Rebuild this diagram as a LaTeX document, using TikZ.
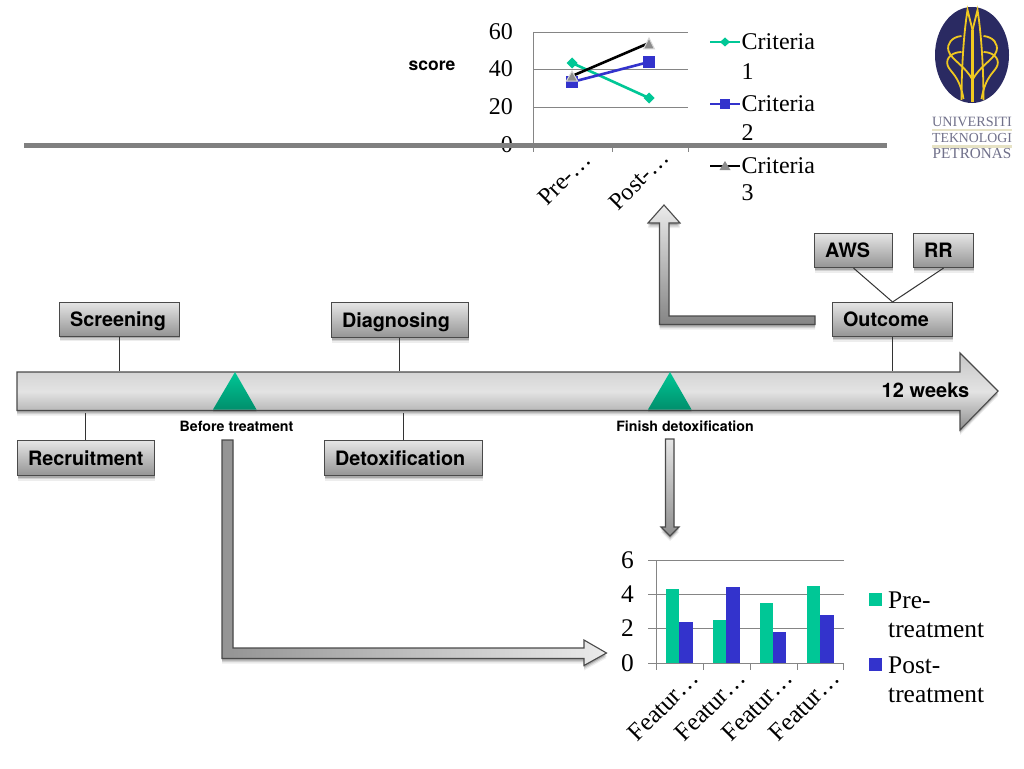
\documentclass[tikz,border=0pt]{standalone}
\usepackage{fontspec}
\setmainfont{Liberation Serif}
\newfontfamily\hv{TeX Gyre Heros}
\usetikzlibrary{shadows}
\definecolor{tgreen}{HTML}{00C796}
\definecolor{tblue}{HTML}{3333CC}
\definecolor{edgec}{HTML}{4A4A4A}
\definecolor{gridc}{HTML}{858585}
\definecolor{logoblue}{HTML}{2A2A62}
\definecolor{logoyel}{HTML}{EFC820}
\definecolor{logotxt}{HTML}{70708A}
\definecolor{logobar}{HTML}{E6E2C4}
\tikzset{
  softshadow/.style={
    general shadow={shadow xshift=0pt,shadow yshift=-5pt,fill=black,opacity=.07},
    general shadow={shadow xshift=0pt,shadow yshift=-3.5pt,fill=black,opacity=.12},
    general shadow={shadow xshift=0pt,shadow yshift=-2pt,fill=black,opacity=.18}},
  boxn/.style={draw=edgec,line width=1.1pt,rectangle,softshadow,top color=E1,bottom color=G9,
    anchor=north west,inner xsep=10.5pt,inner ysep=0pt,align=left,minimum height=34pt,
    text height=16pt,text depth=2pt,
    font=\hv\bfseries\fontsize{19.8}{22}\selectfont,text=black},
  conn/.style={draw=black!80,line width=1pt},
  small/.style={font=\hv\bfseries\fontsize{14.2}{16}\selectfont,text=black,inner sep=0pt},
  blockarrow/.style={draw=edgec,line width=1.1pt,line join=miter,softshadow},
  mile/.style={top color=tgreen,bottom color=black!28!tgreen,
    general shadow={shadow xshift=0pt,shadow yshift=-2pt,fill=black,opacity=.15}},
  grid/.style={draw=gridc,line width=.9pt},
  tick/.style={font=\fontsize{24}{26}\selectfont,text=black,inner sep=0pt},
  tickb/.style={font=\fontsize{25.4}{27}\selectfont,text=black,inner sep=0pt},
  rotl/.style={font=\fontsize{24}{26}\selectfont,text=black,inner sep=0pt,rotate=45,anchor=east},
  rotb/.style={font=\fontsize{25}{27}\selectfont,text=black,inner sep=0pt,rotate=45,anchor=east},
  legt/.style={font=\fontsize{24}{26}\selectfont,text=black,inner sep=0pt,anchor=west},
  legb/.style={font=\fontsize{25.4}{27}\selectfont,text=black,inner sep=0pt,anchor=west},
  logot/.style={text=logotxt,inner sep=0pt},
}
\colorlet{E1}{black!10}
\colorlet{G9}{black!42}
\begin{document}
\begin{tikzpicture}[x=1pt,y=-1pt]
\useasboundingbox (0,0) rectangle (1024,768);
\fill[white] (0,0) rectangle (1024,768);

% main timeline arrow
\path[blockarrow,top color=black!22,bottom color=black!45,middle color=black!11]
  (17,372) -- (960,372) -- (960,353) -- (998,391) -- (960,430) -- (960,410.5) -- (17,410.5) -- cycle;

% named points on the timeline
\coordinate (t1) at (119,371);
\coordinate (t2) at (85,413);
\coordinate (t3) at (399.5,371);
\coordinate (t4) at (403,413);
\coordinate (t5) at (892,371);

% boxes
\node[boxn,text width=99pt] (scr) at (59,301.5) {Screening};
\node[boxn,text width=116pt,minimum height=35pt] (rec) at (17,440) {Recruitment};
\node[boxn,text width=116pt,minimum height=35pt] (dia) at (331,302) {Diagnosing};
\node[boxn,text width=137pt,minimum height=35pt] (det) at (324,440) {Detoxification};
\node[boxn,text width=99pt] (out) at (832,302) {Outcome};
\node[boxn,text width=57pt] (aws) at (814,233) {AWS};
\node[boxn,text width=39pt] (rr) at (913,233) {RR};

% connectors
\draw[conn] (scr.south -| t1) -- (t1);
\draw[conn] (rec.north -| t2) -- (t2);
\draw[conn] (dia.south -| t3) -- (t3);
\draw[conn] (det.north -| t4) -- (t4);
\draw[conn] (out.south -| t5) -- (t5);
\draw[conn] (aws.south) -- (out.north);
\draw[conn] (rr.south) -- (out.north);

% milestones
\path[mile] (235,372) -- (256.5,409.5) -- (213,409.5) -- cycle;
\path[mile] (670,372) -- (691.5,409.5) -- (648,409.5) -- cycle;
\node[small] (lb) at (236.5,426.5) {Before treatment};
\node[small] (lf) at (685,426.5) {Finish detoxification};
\node[font=\hv\bfseries\fontsize{20}{22}\selectfont,inner sep=0pt] (wk) at (925.5,390) {12 weeks};

% block arrows
\path[blockarrow,left color=black!42,right color=black!8]
  (222,440) -- (233,440) -- (233,648) -- (584,648) -- (584,640) -- (606.5,653) -- (584,665.5) -- (584,658.5) -- (222,658.5) -- cycle;
\path[blockarrow,top color=black!8,bottom color=black!48]
  (664,205) -- (680,223) -- (669,223) -- (669,316) -- (815,316) -- (815,324.5) -- (659.5,324.5) -- (659.5,223) -- (648,223) -- cycle;
\path[blockarrow,top color=black!10,bottom color=black!44]
  (665.5,439) -- (674,439) -- (674,527) -- (679,527) -- (670,536) -- (661,527) -- (665.5,527) -- cycle;

% chart 1
\node[font=\hv\bfseries\fontsize{17.5}{19}\selectfont,inner sep=0pt] (score) at (432,66) {score};
\foreach \yy in {32,69,107}
  \draw[grid] (533,\yy) -- (688,\yy);
\draw[grid] (533,32) -- (533,152);
\draw[grid] (533,145) -- (688,145);
\draw[grid] (612,145) -- (612,152);
\draw[grid] (688,145) -- (688,152);
\node[tick,anchor=east] (a60) at (513,32) {60};
\node[tick,anchor=east] (a40) at (513,69) {40};
\node[tick,anchor=east] (a20) at (513,107) {20};
\node[tick,anchor=east] (a0) at (513,145) {0};
\node[rotl] (xa) at (587,156) {Pre-…};
\node[rotl] (xb) at (665,154) {Post-…};
\draw[tgreen,line width=2.6pt] (572,63) -- (649,98);
\draw[tblue,line width=2.6pt] (572,82) -- (649,62);
\draw[black,line width=2.6pt] (572,76) -- (649,43);
\fill[tgreen] (572,57.5) -- (577.5,63) -- (572,68.5) -- (566.5,63) -- cycle;
\fill[tgreen] (649,92.5) -- (654.5,98) -- (649,103.5) -- (643.5,98) -- cycle;
\fill[tblue] (566,76) rectangle (578,88);
\fill[tblue] (643,56) rectangle (655,68);
\filldraw[fill=black!45,draw=black!15,line width=1pt] (572,71) -- (577.5,81) -- (566.5,81) -- cycle;
\filldraw[fill=black!45,draw=black!15,line width=1pt] (649,38) -- (654.5,49) -- (643.5,49) -- cycle;

% chart 1 legend
\draw[tgreen,line width=2.2pt] (710,42) -- (740,42);
\fill[tgreen] (725,37.5) -- (730,42) -- (725,46.5) -- (720,42) -- cycle;
\draw[tblue,line width=2.2pt] (710,104) -- (740,104);
\fill[tblue] (720,99) rectangle (730,109);
\draw[black,line width=2.2pt] (710,166) -- (740,166);
\fill[black!45] (725,161) -- (730.5,170) -- (719.5,170) -- cycle;
\node[legt] (c1) at (741.5,42) {Criteria};
\node[legt] (c1b) at (741.5,72) {1};
\node[legt] (c2) at (741.5,104) {Criteria};
\node[legt] (c2b) at (741.5,133) {2};
\node[legt] (c3) at (741.5,166) {Criteria};
\node[legt] (c3b) at (741.5,193) {3};

% horizontal rule
\draw[draw=black!50,line width=5pt] (24,145.5) -- (887,145.5);

% chart 2
\foreach \yy in {560,594,628.5}
  \draw[grid] (648,\yy) -- (844,\yy);
\draw[grid] (648,663) -- (844,663);
\draw[grid] (656,560) -- (656,670);
\foreach \xx in {703,750,797,843.5}
  \draw[grid] (\xx,663) -- (\xx,670);
\fill[tgreen] (665.5,589) rectangle (679,663);
\fill[tblue] (679,621.5) rectangle (692.5,663);
\fill[tgreen] (713,620) rectangle (726,663);
\fill[tblue] (726,587) rectangle (739.5,663);
\fill[tgreen] (759.5,603) rectangle (773,663);
\fill[tblue] (773,632) rectangle (786,663);
\fill[tgreen] (807,585.5) rectangle (820,663);
\fill[tblue] (820,614.5) rectangle (833.5,663);
\node[tickb,anchor=east] (b6) at (634,560) {6};
\node[tickb,anchor=east] (b4) at (634,594) {4};
\node[tickb,anchor=east] (b2) at (634,628.5) {2};
\node[tickb,anchor=east] (b0) at (634,663) {0};
\node[rotb] (f1) at (695,674) {Featur…};
\node[rotb] (f2) at (742,674) {Featur…};
\node[rotb] (f3) at (789,674) {Featur…};
\node[rotb] (f4) at (836,674) {Featur…};
\fill[tgreen] (869,593) rectangle (882,606);
\fill[tblue] (869,658) rectangle (882,671);
\node[legb] (p1) at (888,600) {Pre-};
\node[legb] (p2) at (888,630) {treatment};
\node[legb] (p3) at (888,665) {Post-};
\node[legb] (p4) at (888,695) {treatment};

% logo
\fill[logoblue] (972,55) ellipse [x radius=37,y radius=48];
\draw[logoyel,line width=3pt] (972.5,30) -- (972.5,102);
\foreach \s in {1,-1}{
\begin{scope}[shift={(972.5,0)},xscale=\s]
  \draw[logoyel,line width=1.8pt,line join=miter]
    (0,30) -- (-5,10) .. controls (-9,35) and (-11,70) .. (-11,100);
  \draw[logoyel,line width=1.8pt]
    (-11,36) .. controls (-21,37) and (-26,44) .. (-24,51)
    .. controls (-21,60) and (-7,66) .. (0,80);
  \draw[logoyel,line width=1.8pt]
    (-11,52) .. controls (-20,52) and (-27,58) .. (-25,65)
    .. controls (-23,72) and (-13,75) .. (-9,99);
\end{scope}}
\fill[logobar] (932,128.5) rectangle (1012,131);
\fill[logobar] (932,145) rectangle (1012,147.5);
\node[logot,font=\fontsize{14.2}{15}\selectfont] (u1) at (972,122) {UNIVERSITI};
\node[logot,font=\fontsize{13.8}{15}\selectfont] (u2) at (972,138) {TEKNOLOGI};
\node[logot,font=\fontsize{15.2}{16}\selectfont] (u3) at (972,153.5) {PETRONAS};
\end{tikzpicture}
\end{document}
